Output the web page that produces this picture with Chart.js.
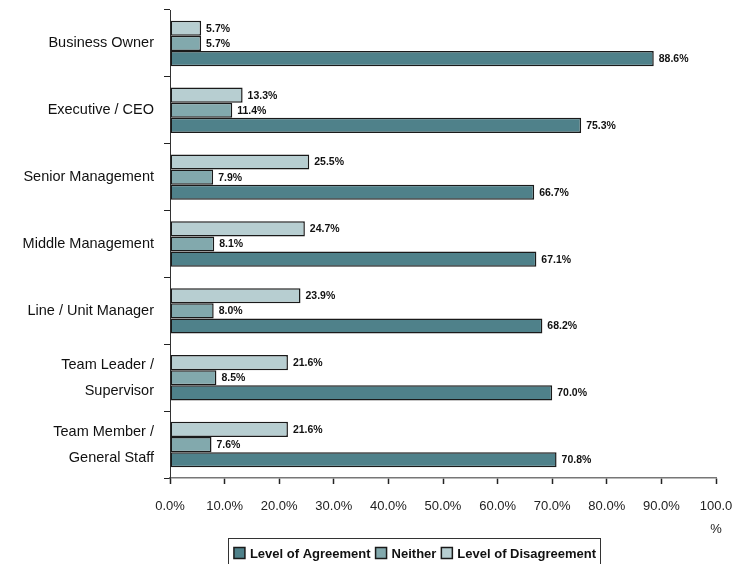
<!DOCTYPE html>
<html>
<head>
<meta charset="utf-8">
<script src="https://cdn.jsdelivr.net/npm/chart.js@4.4.0/dist/chart.umd.min.js"></script>
<style>
  html, body { margin: 0; padding: 0; background: #fff; }
  #wrap { width: 740px; height: 564px; }
</style>
</head>
<body>
<div id="wrap"><canvas id="myChart" width="740" height="564"></canvas></div>
<script>
"use strict";

var roles = [
    "Business Owner",
    "Executive / CEO",
    "Senior Management",
    "Middle Management",
    "Line / Unit Manager",
    ["Team Leader /", "Supervisor"],
    ["Team Member /", "General Staff"]
];
var agreement = [88.6, 75.3, 66.7, 67.1, 68.2, 70.0, 70.8];
var neither = [5.7, 11.4, 7.9, 8.1, 8.0, 8.5, 7.6];
var disagreement = [5.7, 13.3, 25.5, 24.7, 23.9, 21.6, 21.6];
var seriesNames = ["Level of Disagreement", "Neither", "Level of Agreement"];
var seriesColors = ["#b7ced1", "#82a9ad", "#4f818a"];
var xTicks = [0, 10, 20, 30, 40, 50, 60, 70, 80, 90, 100];

var FONT = "'Liberation Sans', Arial, sans-serif";

// value labels at the end of every bar
var barLabels = {
    id: "barLabels",
    afterDatasetsDraw: function (chart) {
        var ctx = chart.ctx;
        ctx.save();
        ctx.font = "bold 10.5px " + FONT;
        ctx.fillStyle = "#111";
        ctx.textBaseline = "middle";
        ctx.textAlign = "left";
        chart.data.datasets.forEach(function (ds, i) {
            chart.getDatasetMeta(i).data.forEach(function (bar, j) {
                ctx.fillText(ds.data[j].toFixed(1) + "%", bar.x + 5, bar.y + 0.5);
            });
        });
        ctx.restore();
    }
};

// boxed legend, agreement first
var boxLegend = {
    id: "boxLegend",
    afterDraw: function (chart) {
        var ctx = chart.ctx;
        var items = chart.data.datasets.slice().reverse();
        var box = 11, gapText = 5, gapItem = 5;
        ctx.save();
        ctx.font = "bold 13px " + FONT;
        var total = 0;
        items.forEach(function (ds, i) {
            total += box + gapText + ctx.measureText(ds.label).width + (i < items.length - 1 ? gapItem : 0);
        });
        var x = 415 - total / 2;
        var yMid = 553;
        ctx.strokeStyle = "#333";
        ctx.lineWidth = 1;
        ctx.strokeRect(228.5, 538.5, 372, 40);
        ctx.textBaseline = "middle";
        items.forEach(function (ds) {
            ctx.fillStyle = ds.backgroundColor;
            ctx.fillRect(x, yMid - box / 2, box, box);
            ctx.lineWidth = 1.5;
            ctx.strokeStyle = "#1a1a1a";
            ctx.strokeRect(x, yMid - box / 2, box, box);
            ctx.fillStyle = "#111";
            ctx.fillText(ds.label, x + box + gapText, yMid + 1);
            x += box + gapText + ctx.measureText(ds.label).width + gapItem;
        });
        ctx.restore();
    }
};

var ctx = document.getElementById("myChart");
var myChart = new Chart(ctx, {
    type: "bar",
    data: {
        labels: roles,
        datasets: [
            { label: seriesNames[0], data: disagreement, backgroundColor: seriesColors[0] },
            { label: seriesNames[1], data: neither, backgroundColor: seriesColors[1] },
            { label: seriesNames[2], data: agreement, backgroundColor: seriesColors[2] }
        ].map(function (d) {
            d.borderColor = "#1a1a1a";
            d.borderWidth = 1.5;
            d.borderSkipped = false;
            d.categoryPercentage = 0.68;
            d.barPercentage = 1.0;
            return d;
        })
    },
    options: {
        indexAxis: "y",
        responsive: false,
        animation: false,
        layout: { padding: { top: 10, right: 24, bottom: 0, left: 0 } },
        plugins: {
            legend: { display: false },
            tooltip: { enabled: false }
        },
        scales: {
            x: {
                min: 0,
                max: 100,
                afterBuildTicks: function (scale) {
                    scale.ticks = xTicks.map(function (v) { return { value: v }; });
                },
                afterFit: function (scale) {
                    scale.height = 86;
                    scale.paddingLeft = 0;
                    scale.paddingRight = 0;
                },
                grid: { drawOnChartArea: false, tickLength: 6, color: "#222", tickWidth: 1.5 },
                border: { color: "#777", width: 1.5 },
                ticks: {
                    padding: 11,
                    maxRotation: 0,
                    autoSkip: false,
                    color: "#222",
                    font: { family: FONT, size: 13, lineHeight: 1.75 },
                    callback: function (v) {
                        return v === 100 ? ["100.0", "%"] : v.toFixed(1) + "%";
                    }
                }
            },
            y: {
                afterFit: function (scale) {
                    scale.width = 170;
                    scale.paddingTop = 0;
                    scale.paddingBottom = 0;
                },
                grid: { drawOnChartArea: false, tickLength: 6, color: "#222", offset: true },
                border: { color: "#333", width: 1 },
                ticks: {
                    padding: 10,
                    autoSkip: false,
                    color: "#111",
                    font: { family: FONT, size: 14.5, lineHeight: 1.8 }
                }
            }
        }
    },
    plugins: [barLabels, boxLegend]
});
</script>
</body>
</html>
